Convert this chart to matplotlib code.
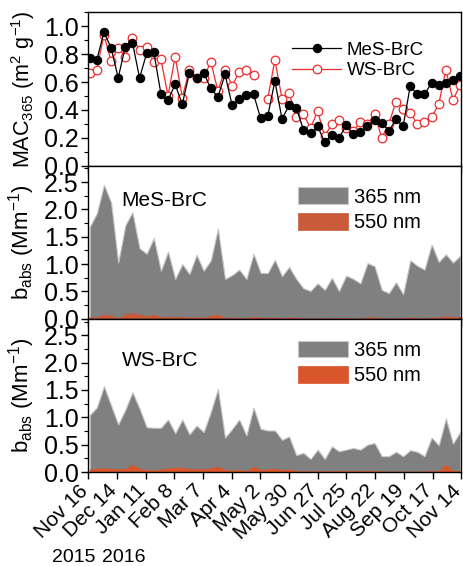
import numpy as np
import matplotlib.pyplot as plt
from matplotlib.ticker import MultipleLocator
from matplotlib.transforms import ScaledTranslation

plt.rcParams['font.family'] = ['Liberation Sans', 'DejaVu Sans']
plt.rcParams['mathtext.fontset'] = 'custom'
plt.rcParams['mathtext.rm'] = 'Liberation Sans'
plt.rcParams['mathtext.it'] = 'Liberation Sans'

# weekly samples, days since 2015-11-16
days = np.arange(53) * 6.95 + 1.5

tick_days = np.arange(14) * 28
tick_labels = ['Nov 16', 'Dec 14', 'Jan 11', 'Feb 8', 'Mar 7', 'Apr 4', 'May 2',
               'May 30', 'Jun 27', 'Jul 25', 'Aug 22', 'Sep 19', 'Oct 17', 'Nov 14']

mac_mes = [0.776, 0.76, 0.957, 0.848, 0.63, 0.855, 0.884, 0.63, 0.807, 0.814,
           0.516, 0.472, 0.583, 0.441, 0.667, 0.63, 0.667, 0.554, 0.494, 0.655,
           0.434, 0.475, 0.51, 0.513, 0.34, 0.357, 0.607, 0.335, 0.434, 0.417,
           0.258, 0.234, 0.282, 0.169, 0.222, 0.198, 0.289, 0.229, 0.239, 0.284,
           0.33, 0.306, 0.248, 0.333, 0.282, 0.571, 0.511, 0.511, 0.595, 0.581,
           0.595, 0.612, 0.641]
mac_ws = [0.667, 0.69, 0.94, 0.75, 0.843, 0.783, 0.92, 0.831, 0.855, 0.747,
          0.764, 0.5, 0.783, 0.489, 0.69, 0.63, 0.63, 0.747, 0.537, 0.69,
          0.571, 0.675, 0.69, 0.65, np.nan, 0.48, 0.76, 0.48, 0.52, 0.35,
          0.37, 0.27, 0.39, 0.21, 0.3, 0.33, 0.27, 0.25, 0.31, 0.3,
          0.37, 0.2, 0.3, 0.46, 0.41, 0.38, 0.3, 0.31, 0.35, 0.44,
          0.69, 0.47, 0.58]

mes_365 = [1.68, 1.93, 2.45, 2.13, 1.03, 1.71, 1.95, 1.29, 1.19, 1.48,
           0.88, 1.23, 0.73, 1.0, 0.82, 1.17, 0.88, 1.07, 1.65, 0.73,
           0.8, 0.9, 0.73, 1.19, 0.84, 0.84, 1.08, 0.78, 0.95, 0.73,
           0.56, 0.51, 0.65, 0.53, 0.75, 0.51, 0.79, 0.73, 0.65, 1.02,
           0.96, 0.53, 0.47, 0.67, 0.45, 1.07, 0.97, 0.9, 1.36, 1.04,
           1.18, 1.03, 1.15]
mes_550 = [0.04, 0.03, 0.08, 0.06, 0.01, 0.09, 0.1, 0.08, 0.05, 0.08,
           0.03, 0.04, 0.03, 0.04, 0.02, 0.03, 0.02, 0.06, 0.08, 0.02,
           0.02, 0.02, 0.01, 0.04, 0.02, 0.02, 0.03, 0.01, 0.03, 0.02,
           0.01, 0.01, 0.01, 0.01, 0.02, 0.01, 0.02, 0.01, 0.01, 0.03,
           0.03, 0.01, 0.01, 0.02, 0.01, 0.03, 0.02, 0.01, 0.03, 0.02,
           0.05, 0.03, 0.04]

ws_365 = [1.04, 1.18, 1.57, 1.22, 0.87, 1.14, 1.46, 1.16, 0.82, 0.81,
          0.81, 0.96, 0.71, 0.96, 0.69, 0.85, 0.73, 1.1, 1.52, 0.63,
          0.79, 0.96, 0.67, 1.18, 0.79, 0.76, 0.76, 0.59, 0.65, 0.31,
          0.35, 0.24, 0.41, 0.24, 0.47, 0.38, 0.41, 0.44, 0.41, 0.5,
          0.53, 0.29, 0.29, 0.37, 0.29, 0.4, 0.37, 0.29, 0.63, 0.49,
          0.98, 0.52, 0.73]
ws_550 = [0.05, 0.06, 0.07, 0.06, 0.05, 0.06, 0.13, 0.06, 0.04, 0.03,
          0.05, 0.07, 0.08, 0.08, 0.06, 0.05, 0.05, 0.07, 0.1, 0.04,
          0.03, 0.04, 0.02, 0.1, 0.04, 0.05, 0.06, 0.04, 0.05, 0.02,
          0.02, 0.01, 0.02, 0.01, 0.02, 0.02, 0.02, 0.02, 0.02, 0.02,
          0.02, 0.01, 0.01, 0.01, 0.01, 0.01, 0.01, 0.01, 0.02, 0.02,
          0.13, 0.02, 0.02]

fig = plt.figure(figsize=(4.64, 5.66), dpi=100)
gs = fig.add_gridspec(3, 1, left=0.19, right=0.994, top=0.978, bottom=0.166, hspace=0)
ax1 = fig.add_subplot(gs[0])
ax2 = fig.add_subplot(gs[1], sharex=ax1)
ax3 = fig.add_subplot(gs[2], sharex=ax1)

ax1.plot(days, mac_mes, '-o', color='black', lw=0.9, ms=5.8, label='MeS-BrC', zorder=3)
ax1.plot(days, mac_ws, '-o', color='#f02a2a', lw=0.9, ms=6.2, mfc='white',
         mew=0.9, label='WS-BrC', zorder=2)
ax1.set_ylim(0, 1.1)
ax1.yaxis.set_major_locator(MultipleLocator(0.2))
ax1.yaxis.set_minor_locator(MultipleLocator(0.1))
ax1.set_ylabel('MAC$_{365}$ (m$^2$ g$^{-1}$)', fontsize=15.5, labelpad=5)
ax1.legend(loc='upper right', bbox_to_anchor=(0.92, 0.86), frameon=False, fontsize=13.5,
           handlelength=2.6, handletextpad=0.3, labelspacing=0.2, borderaxespad=0)

for ax, v365, v550, c550, name, ty in [(ax2, mes_365, mes_550, '#c95a3a', 'MeS-BrC', 0.77),
                                        (ax3, ws_365, ws_550, '#d9552b', 'WS-BrC', 0.73)]:
    ax.fill_between(days, 0, v365, facecolor='#808080', edgecolor='#c8c8c8', lw=0.8,
                    label='365 nm')
    ax.fill_between(days, 0, v550, facecolor=c550, edgecolor=c550, lw=0.5, label='550 nm')
    ax.set_ylim(0, 2.8)
    ax.yaxis.set_major_locator(MultipleLocator(0.5))
    ax.yaxis.set_minor_locator(MultipleLocator(0.25))
    ax.set_ylabel('b$_{abs}$ (Mm$^{-1}$)', fontsize=16, labelpad=5)
    ax.text(0.09, ty, name, transform=ax.transAxes, fontsize=15, va='center')
    ax.legend(loc='upper right', bbox_to_anchor=(0.915, 0.91), frameon=False, fontsize=14.5,
              handlelength=2.5, handleheight=0.9, handletextpad=0.3, labelspacing=0.3,
              borderaxespad=0)

for ax in (ax1, ax2, ax3):
    ax.set_xlim(0, 364)
    ax.set_xticks(tick_days)
    ax.tick_params(axis='both', which='major', direction='out', length=5, width=1,
                   labelsize=18, pad=2)
    ax.tick_params(axis='y', which='minor', direction='out', length=3, width=0.8)
    for s in ax.spines.values():
        s.set_linewidth(1)

ax1.tick_params(axis='x', labelbottom=False)
ax2.tick_params(axis='x', labelbottom=False)
ax3.set_xticklabels(tick_labels, rotation=45, ha='right', va='center',
                    rotation_mode='anchor', fontsize=15)
shift = ScaledTranslation(-3 / 100, -6 / 100, fig.dpi_scale_trans)
for lab in ax3.get_xticklabels():
    lab.set_transform(lab.get_transform() + shift)

fig.text(0.158, 0.0, '2015', ha='center', va='bottom', fontsize=14)
fig.text(0.266, 0.0, '2016', ha='center', va='bottom', fontsize=14)

fig.savefig('out.png', dpi=100)
